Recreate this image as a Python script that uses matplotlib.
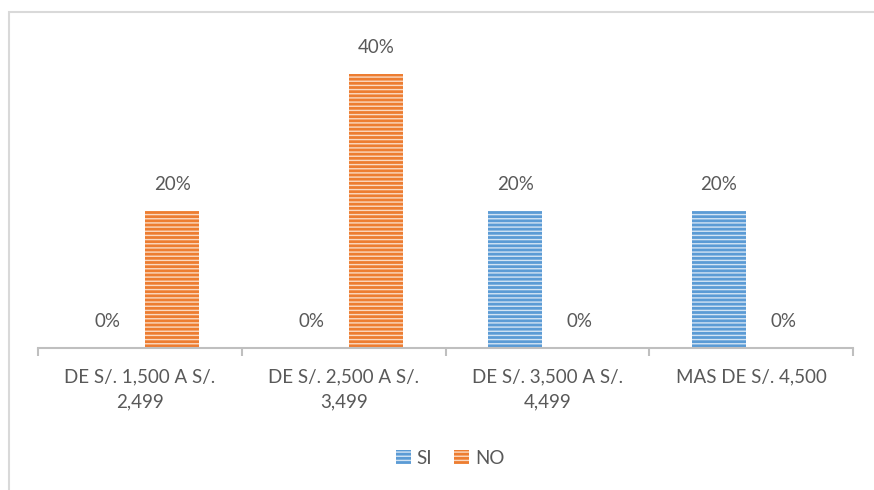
import matplotlib.pyplot as plt
import matplotlib.patches as mpatches
import numpy as np

plt.rcParams['font.family'] = ['Lato', 'DejaVu Sans']
plt.rcParams['hatch.linewidth'] = 1.0

categories = ['DE S/. 1,500 A S/.\n2,499', 'DE S/. 2,500 A S/.\n3,499',
              'DE S/. 3,500 A S/.\n4,499', 'MAS DE S/. 4,500']
si = [0.0, 0.0, 0.20, 0.20]
no = [0.20, 0.40, 0.0, 0.0]

blue = '#5B9BD5'
orange = '#ED7D31'
txt = '#595959'

fig = plt.figure(figsize=(8.74, 4.9), dpi=100)
ax = fig.add_axes([38/874, 1-348/490, (853-38)/874, (348-40)/490])

x = np.arange(len(categories))
w = 0.265
off = 0.158
b1 = ax.bar(x - off, si, w, color=blue, edgecolor='#d3e4f4', linewidth=0, hatch='----', label='SI')
b2 = ax.bar(x + off, no, w, color=orange, edgecolor='#fbdac2', linewidth=0, hatch='----', label='NO')

for bars, vals in ((b1, si), (b2, no)):
    for r, v in zip(bars, vals):
        ax.annotate(f'{v*100:.0f}%', (r.get_x() + r.get_width()/2, v),
                    xytext=(0, 13), textcoords='offset points',
                    ha='center', va='bottom', fontsize=13.5, color=txt)

ax.set_xlim(-0.5, len(categories) - 0.5)
ax.set_ylim(0, 0.45)
ax.set_yticks([])
for s in ['top', 'right', 'left']:
    ax.spines[s].set_visible(False)
ax.spines['bottom'].set_color('#bfbfbf')
ax.spines['bottom'].set_linewidth(1.5)

ax.set_xticks(x)
ax.set_xticklabels(categories, fontsize=13.5, color=txt, linespacing=1.55)
ax.tick_params(axis='x', which='major', length=0, pad=15)
ax.set_xticks(np.arange(len(categories) + 1) - 0.5, minor=True)
ax.tick_params(axis='x', which='minor', length=6, width=1.5, color='#bfbfbf')

leg = fig.legend(handles=[b1, b2], loc='center', bbox_to_anchor=(450/874, 1-458/490),
                 ncol=2, frameon=False, fontsize=13.5, handlelength=0.8, handleheight=0.8,
                 handletextpad=0.3, columnspacing=1.2, labelcolor=txt)

# outer chart border (left and top visible)
fig.patches.append(mpatches.Rectangle((9/874, -0.05), 1.1, 1-12/490+0.05,
                                      transform=fig.transFigure, fill=False,
                                      edgecolor='#d9d9d9', linewidth=1.5))

fig.savefig('out.png', dpi=100)
